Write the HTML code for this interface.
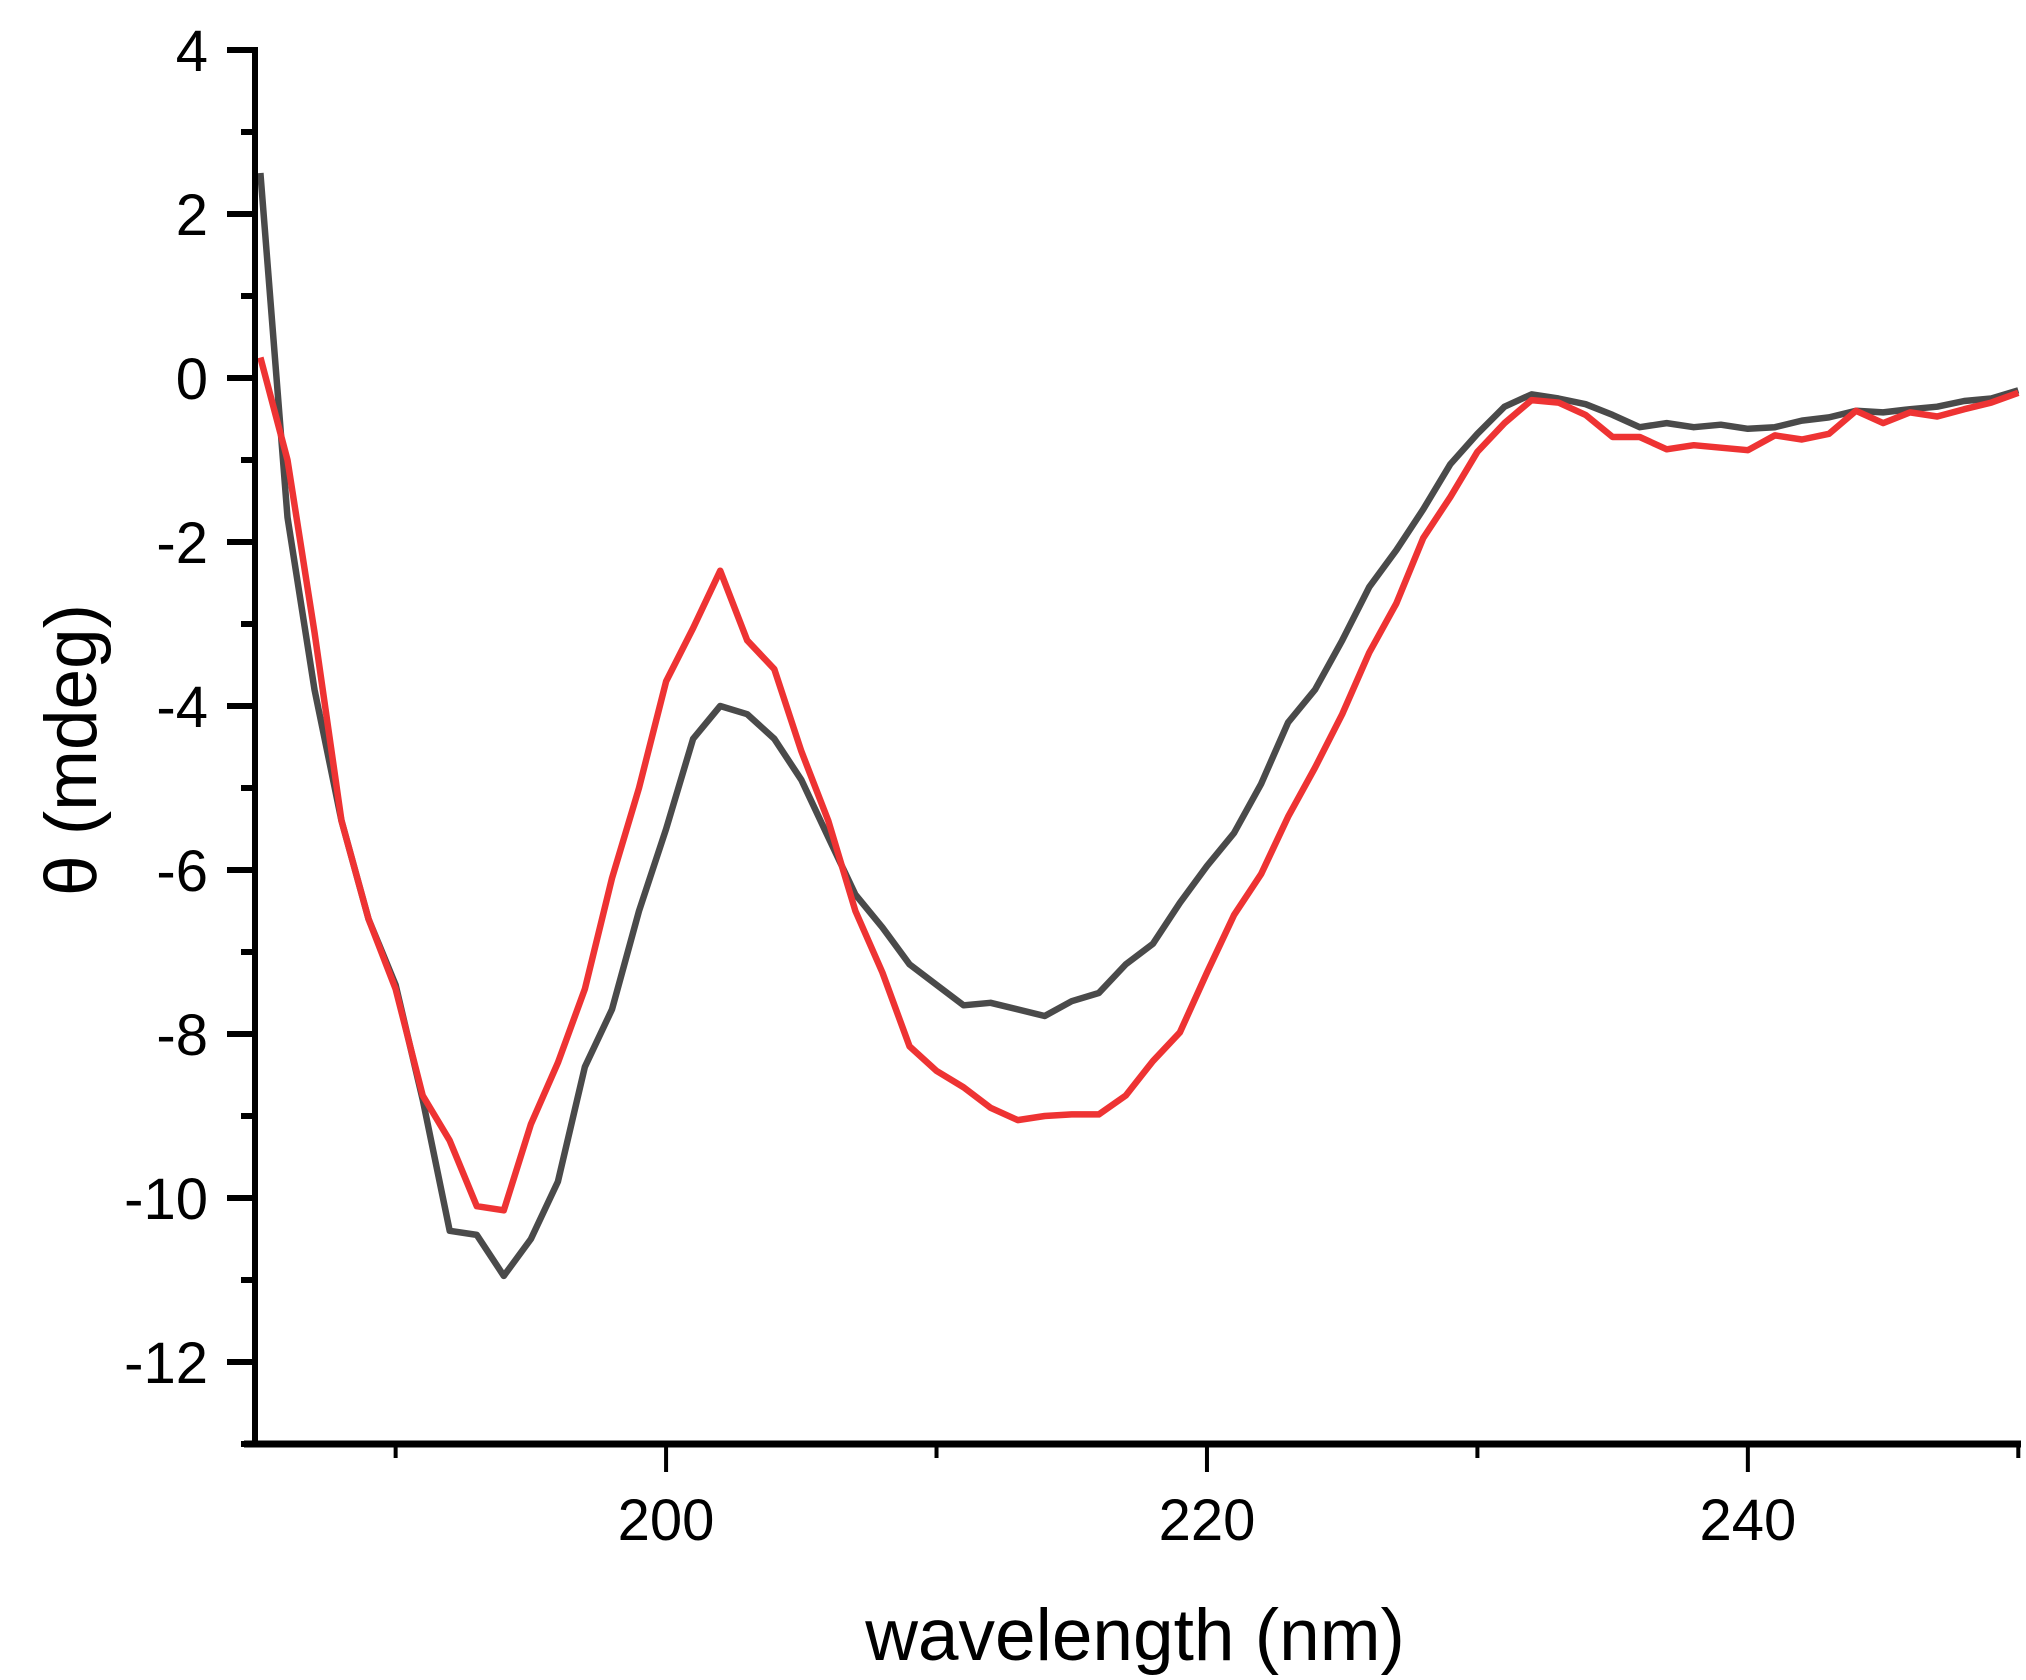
<!DOCTYPE html>
<html><head><meta charset="utf-8"><style>
html,body{margin:0;padding:0;background:#fff;}
svg{display:block;font-family:"Liberation Sans",Arial,sans-serif;}
</style></head><body>
<svg id="chart" width="2026" height="1680" viewBox="0 0 2026 1680" xmlns="http://www.w3.org/2000/svg"></svg>
<script>
const wavelengths = [];
for (let w = 185; w <= 250; w++) wavelengths.push(w);
const seriesBlack = [2.5,-1.7,-3.8,-5.4,-6.6,-7.4,-8.8,-10.4,-10.45,-10.95,-10.5,-9.8,-8.4,-7.7,-6.5,-5.5,-4.4,-4.0,-4.1,-4.4,-4.9,-5.6,-6.3,-6.7,-7.15,-7.4,-7.65,-7.62,-7.7,-7.78,-7.6,-7.5,-7.15,-6.9,-6.4,-5.95,-5.55,-4.95,-4.2,-3.8,-3.2,-2.55,-2.1,-1.6,-1.05,-0.68,-0.35,-0.2,-0.25,-0.32,-0.45,-0.6,-0.55,-0.6,-0.57,-0.62,-0.6,-0.52,-0.48,-0.4,-0.42,-0.38,-0.35,-0.28,-0.25,-0.15];
const seriesRed = [0.25,-1.0,-3.1,-5.4,-6.6,-7.45,-8.75,-9.3,-10.1,-10.15,-9.1,-8.35,-7.45,-6.1,-5.0,-3.7,-3.05,-2.35,-3.2,-3.55,-4.55,-5.4,-6.5,-7.25,-8.15,-8.45,-8.65,-8.9,-9.05,-9.0,-8.98,-8.98,-8.75,-8.33,-7.98,-7.25,-6.55,-6.05,-5.35,-4.75,-4.1,-3.35,-2.75,-1.95,-1.45,-0.9,-0.55,-0.27,-0.3,-0.45,-0.72,-0.72,-0.87,-0.82,-0.85,-0.88,-0.7,-0.75,-0.68,-0.4,-0.55,-0.42,-0.47,-0.38,-0.3,-0.18];
const xMajorTicks = [200,220,240];
const xMinorTicks = [190,210,230,250];
const yMajorTicks = [4,2,0,-2,-4,-6,-8,-10,-12];
const yMinorTicks = [3,1,-1,-3,-5,-7,-9,-11,-13];

const X0=255, X1=2021, XMIN=184.8, XMAX=250.1;
const Y0=1444, YTOP=50;
const sx = v => X0 + (v - XMIN) / (XMAX - XMIN) * (X1 - X0);
const sy = v => 378 - v * 82;
const NS = "http://www.w3.org/2000/svg";
const svg = document.getElementById('chart');
function mk(tag, attrs, parent) {
  const e = document.createElementNS(NS, tag);
  for (const k in attrs) e.setAttribute(k, attrs[k]);
  (parent || svg).appendChild(e);
  return e;
}
function drawSeries(vals, color, name) {
  let d = '';
  vals.forEach((v, i) => { d += (i ? 'L' : 'M') + sx(wavelengths[i]).toFixed(1) + ',' + sy(v).toFixed(1); });
  const p = mk('path', {d: d, fill: 'none', stroke: color, 'stroke-width': 6.5, 'stroke-linejoin': 'round'});
  
  
}
drawSeries(seriesBlack, '#4a4a4a', 'series-black-line');
drawSeries(seriesRed, '#ee3333', 'series-red-line');
const ya = mk('line', {x1: X0, y1: YTOP - 3, x2: X0, y2: Y0 + 3, stroke: '#000', 'stroke-width': 6});


const xa = mk('line', {x1: 244, y1: Y0, x2: 2021, y2: Y0, stroke: '#000', 'stroke-width': 7});


yMajorTicks.forEach(v => {
  const t = mk('line', {x1: X0 - 28, y1: sy(v), x2: X0, y2: sy(v), stroke: '#000', 'stroke-width': 6});
  
  
  const l = mk('text', {x: 208, y: sy(v) + 21, 'text-anchor': 'end', 'font-size': 58, fill: '#000'});
  l.textContent = v;
  
  
});
yMinorTicks.forEach(v => {
  const t = mk('line', {x1: X0 - 14, y1: sy(v), x2: X0, y2: sy(v), stroke: '#000', 'stroke-width': 6});
  
  
});
xMajorTicks.forEach(v => {
  const t = mk('line', {x1: sx(v), y1: Y0, x2: sx(v), y2: Y0 + 28, stroke: '#000', 'stroke-width': 4});
  
  
  const l = mk('text', {x: sx(v), y: 1540, 'text-anchor': 'middle', 'font-size': 58, fill: '#000'});
  l.textContent = v;
  
  
});
xMinorTicks.forEach(v => {
  const t = mk('line', {x1: sx(v), y1: Y0, x2: sx(v), y2: Y0 + 14, stroke: '#000', 'stroke-width': 4});
  
  
});
const xt = mk('text', {x: 1135, y: 1660, 'text-anchor': 'middle', 'font-size': 73, fill: '#000'});
xt.textContent = 'wavelength (nm)';


const yt = mk('text', {x: 0, y: 0, 'text-anchor': 'middle', 'font-size': 73, fill: '#000', transform: 'translate(96,750) rotate(-90)'});
yt.textContent = 'θ (mdeg)';


</script>
</body></html>
